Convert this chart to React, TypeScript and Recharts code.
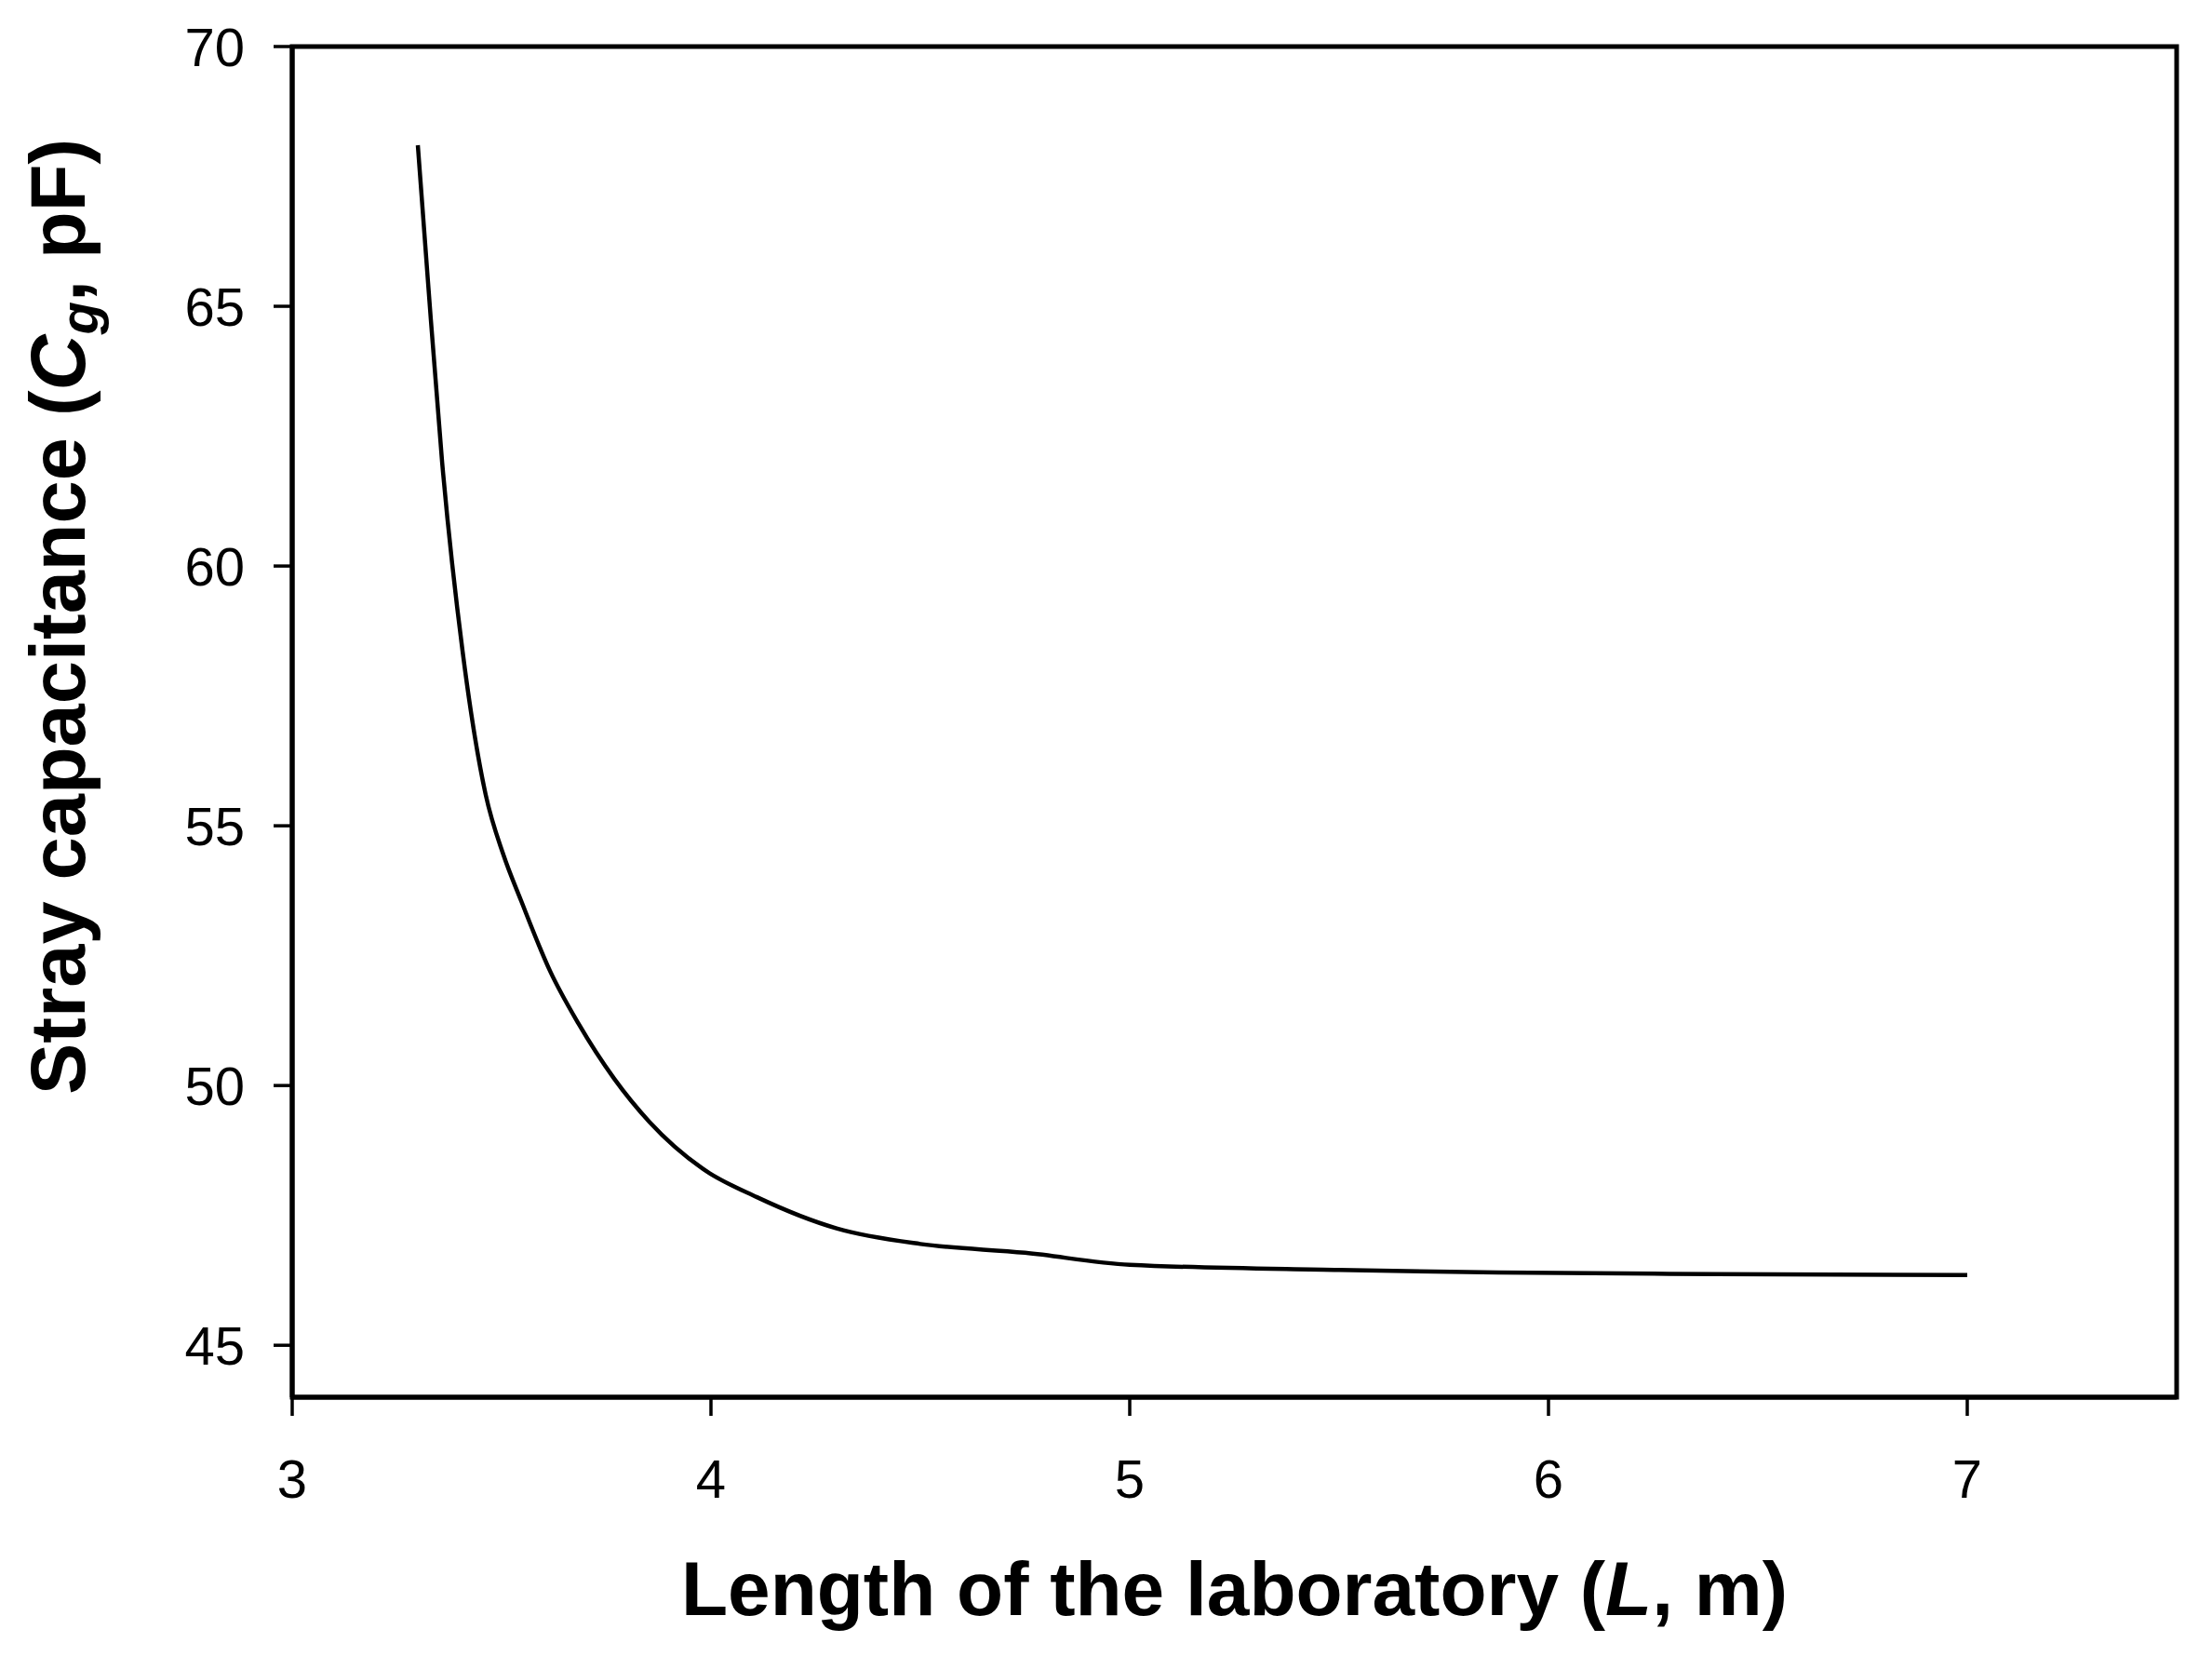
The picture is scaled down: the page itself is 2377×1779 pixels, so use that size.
import React from 'react';
import { LineChart, Line, XAxis, YAxis, Label, ReferenceArea } from 'recharts';

const lengthValues = [3.3, 3.324, 3.358, 3.407, 3.462, 3.504, 3.547, 3.616, 3.683, 3.769, 3.853, 3.98, 4.11, 4.3, 4.5, 4.75, 5.0, 5.5, 5.88, 6.4, 7.0];
const capacitanceValues = [68.1, 65.5, 62.0, 58.35, 55.6, 54.45, 53.55, 52.2, 51.2, 50.13, 49.3, 48.4, 47.85, 47.25, 46.95, 46.78, 46.55, 46.45, 46.4, 46.37, 46.35];

const xTicks = [3, 4, 5, 6, 7];
const yTicks = [45, 50, 55, 60, 65, 70];
const xDomain = [3, 7.5];
const yDomain = [44, 70];

const data = lengthValues.map((L, i) => ({ L, Cg: capacitanceValues[i] }));

const FONT = '"Liberation Sans", Arial, Helvetica, sans-serif';
const axisStroke = { stroke: '#000', strokeWidth: 5 };
const tickStroke = { stroke: '#000', strokeWidth: 3.5 };
const tickText = { fill: '#000', fontSize: 58, fontFamily: FONT };

const XTitle = ({ viewBox }: any) => {
  const cx = viewBox.x + viewBox.width / 2;
  const y = viewBox.y + 234;
  return (
    <text x={cx} y={y} textAnchor="middle" fontFamily={FONT} fontWeight="bold" fontSize={82} fill="#000">
      Length of the laboratory (<tspan fontStyle="italic">L</tspan>, m)
    </text>
  );
};

const YTitle = ({ viewBox }: any) => {
  const x = viewBox.x + 91;
  const y = viewBox.y + viewBox.height / 2 - 113;
  return (
    <text
      x={x}
      y={y}
      textAnchor="middle"
      transform={`rotate(-90, ${x}, ${y})`}
      fontFamily={FONT}
      fontWeight="bold"
      fontSize={83}
      fill="#000"
    >
      Stray capacitance (<tspan fontStyle="italic">C</tspan>
      <tspan fontStyle="italic" fontSize={58} dy={14}>g</tspan>
      <tspan dy={-14}>, pF)</tspan>
    </text>
  );
};

const App: React.FC = () => {
  return (
    <div style={{ position: 'absolute', left: 0, top: 0, width: 2377, height: 1779, background: '#fff' }}>
      <LineChart
        width={2377}
        height={1779}
        data={data}
        margin={{ top: 50, right: 38, left: 0, bottom: 0 }}
      >
        <XAxis
          dataKey="L"
          type="number"
          domain={xDomain}
          ticks={xTicks}
          height={278}
          axisLine={axisStroke}
          tickLine={tickStroke}
          tickSize={20}
          tickMargin={47}
          tick={tickText}
        >
          <Label content={<XTitle />} />
        </XAxis>
        <YAxis
          type="number"
          domain={yDomain}
          ticks={yTicks}
          width={314}
          axisLine={axisStroke}
          tickLine={tickStroke}
          tickSize={20}
          tickMargin={31}
          tick={tickText}
        >
          <Label content={<YTitle />} />
        </YAxis>
        {/* frame around the plot */}
        <ReferenceArea
          x1={xDomain[0]}
          x2={xDomain[1]}
          y1={yDomain[0]}
          y2={yDomain[1]}
          fill="none"
          fillOpacity={0}
          stroke="#000"
          strokeWidth={5}
          strokeOpacity={1}
        />
        <Line
          type="monotone"
          dataKey="Cg"
          stroke="#000"
          strokeWidth={4.5}
          dot={false}
          isAnimationActive={false}
        />
      </LineChart>
    </div>
  );
};

export default App;
